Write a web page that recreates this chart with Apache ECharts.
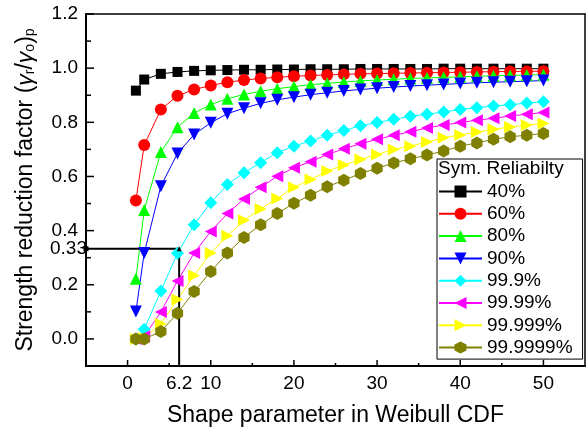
<!DOCTYPE html>
<html>
<head>
<meta charset="utf-8">
<script src="https://cdn.jsdelivr.net/npm/echarts@6/dist/echarts.min.js"></script>
<style>
  html, body { margin: 0; padding: 0; background: #fff; }
  #chart { width: 588px; height: 433px; }
</style>
</head>
<body>
<div id="chart"></div>
<script>
// shape parameter values
const shapeK = [1, 2, 4, 6, 8, 10, 12, 14, 16, 18, 20, 22, 24, 26, 28, 30, 32, 34, 36, 38, 40, 42, 44, 46, 48, 50]

const names = ['40%', '60%', '80%', '90%', '99.9%', '99.99%', '99.999%', '99.9999%']
const colors = ['#000000', '#ff0000', '#00ff00', '#0000ff', '#00ffff', '#ff00ff', '#ffff00', '#808000']

const r40 = [0.917, 0.958, 0.979, 0.986, 0.990, 0.992, 0.993, 0.994, 0.994, 0.995, 0.995, 0.996, 0.996, 0.996, 0.997, 0.997, 0.997, 0.997, 0.997, 0.998, 0.998, 0.998, 0.998, 0.998, 0.998, 0.998]
const r60 = [0.511, 0.716, 0.847, 0.898, 0.921, 0.936, 0.948, 0.956, 0.962, 0.966, 0.970, 0.973, 0.975, 0.977, 0.979, 0.980, 0.981, 0.982, 0.983, 0.984, 0.985, 0.986, 0.987, 0.988, 0.988, 0.989]
const r80 = [0.222, 0.476, 0.690, 0.782, 0.834, 0.866, 0.887, 0.903, 0.915, 0.924, 0.932, 0.939, 0.944, 0.949, 0.953, 0.956, 0.959, 0.962, 0.964, 0.966, 0.968, 0.970, 0.972, 0.973, 0.975, 0.976]
const r90 = [0.101, 0.317, 0.564, 0.685, 0.755, 0.798, 0.832, 0.852, 0.870, 0.883, 0.893, 0.902, 0.909, 0.916, 0.921, 0.926, 0.930, 0.934, 0.937, 0.940, 0.943, 0.946, 0.948, 0.950, 0.952, 0.954]
const r999 = [0.000, 0.036, 0.177, 0.316, 0.422, 0.503, 0.570, 0.614, 0.651, 0.688, 0.712, 0.731, 0.752, 0.770, 0.787, 0.799, 0.811, 0.822, 0.830, 0.838, 0.847, 0.854, 0.860, 0.865, 0.871, 0.876]
const r9999 = [0.000, 0.010, 0.099, 0.214, 0.317, 0.397, 0.463, 0.517, 0.560, 0.601, 0.632, 0.654, 0.681, 0.702, 0.721, 0.737, 0.752, 0.765, 0.779, 0.790, 0.799, 0.808, 0.815, 0.823, 0.830, 0.836]
const r99999 = [0.000, 0.003, 0.056, 0.146, 0.234, 0.317, 0.381, 0.438, 0.480, 0.519, 0.560, 0.589, 0.620, 0.642, 0.663, 0.681, 0.700, 0.712, 0.727, 0.743, 0.753, 0.764, 0.774, 0.783, 0.790, 0.796]
const r999999 = [0.000, 0.000, 0.027, 0.095, 0.175, 0.249, 0.317, 0.375, 0.422, 0.463, 0.501, 0.531, 0.562, 0.586, 0.611, 0.630, 0.650, 0.665, 0.679, 0.694, 0.712, 0.724, 0.737, 0.747, 0.752, 0.759]

// design point
const refK = 6.2
const refR = 0.333

const xTicks = [0, 10, 20, 30, 40, 50]
const xMinorTicks = [5, 15, 25, 35, 45]
const yTicks = [0, 0.2, 0.4, 0.6, 0.8, 1.0, 1.2]
const yMinorTicks = [0.1, 0.3, 0.5, 0.7, 0.9, 1.1]

const xMin = -5
const xMax = 55
const yMin = -0.1
const yMax = 1.2

const hexagon = 'path://M0,-1L0.866,-0.5L0.866,0.5L0,1L-0.866,0.5L-0.866,-0.5Z'
const symbols = ['rect', 'circle', 'triangle', 'path://M-1,-1L1,-1L0,1Z', 'diamond', 'path://M1,-1L1,1L-1,0Z', 'path://M-1,-1L-1,1L1,0Z', hexagon]
const symbolSizes = [10, 12, 12, 12, 13, 12, 12, 13]
const allData = [r40, r60, r80, r90, r999, r9999, r99999, r999999]

const font = "'Liberation Sans', Arial, sans-serif"
const chart = echarts.init(document.getElementById('chart'))

const seriesArr = allData.map((vals, i) => {
  return {
    name: names[i],
    type: 'line',
    data: shapeK.map((k, j) => [k, vals[j]]),
    symbol: symbols[i],
    symbolSize: symbolSizes[i],
    symbolKeepAspect: true,
    showAllSymbol: true,
    itemStyle: { color: colors[i] },
    lineStyle: { color: colors[i], width: 1 },
    emphasis: { disabled: true },
    animation: false
  }
})

// guide lines to the 0.33 / 6.2 point
seriesArr.push({
  name: 'ref',
  type: 'line',
  data: [
    { value: [xMin, refR], symbol: 'rect', symbolSize: 5 },
    { value: [refK, refR], symbol: 'triangle', symbolSize: 5 },
    { value: [refK, yMin], symbol: 'none' }
  ],
  lineStyle: { color: '#000', width: 2 },
  itemStyle: { color: '#000' },
  clip: false,
  silent: true,
  animation: false
})

// inward tick marks drawn by a custom series (axis ticks do not show here)
function tickSeries (vals, onY, len) {
  return {
    type: 'custom',
    silent: true,
    animation: false,
    clip: false,
    z: 10,
    data: vals.map(v => (onY ? [xMin, v] : [v, yMin])),
    renderItem: function (params, api) {
      const p = api.coord([api.value(0), api.value(1)])
      return {
        type: 'line',
        shape: onY
          ? { x1: p[0], y1: p[1], x2: p[0] + len, y2: p[1] }
          : { x1: p[0], y1: p[1], x2: p[0], y2: p[1] - len },
        style: { stroke: '#000', lineWidth: 1.5 }
      }
    }
  }
}

seriesArr.push(tickSeries(yTicks, true, 8))
seriesArr.push(tickSeries(yMinorTicks, true, 5))
seriesArr.push(tickSeries(xTicks, false, 6))
seriesArr.push(tickSeries(xMinorTicks, false, 3))

// axis that only draws the frame line
function frameAxis (pos, min, max, width) {
  return {
    type: 'value',
    min: min,
    max: max,
    position: pos,
    axisLine: { show: true, onZero: false, lineStyle: { color: '#000', width: width } },
    axisTick: { show: false },
    axisLabel: { show: false },
    splitLine: { show: false }
  }
}

// axis that only carries labels
function labelAxis (pos, min, max) {
  return {
    type: 'value',
    min: min,
    max: max,
    position: pos,
    axisLine: { show: false, onZero: false },
    axisTick: { show: false },
    axisLabel: { show: false },
    splitLine: { show: false }
  }
}

const xMajor = labelAxis('bottom', xMin, xMax)
xMajor.axisLabel = {
  customValues: xTicks.concat([refK]),
  formatter: v => (v === refK ? '6.2' : String(v)),
  fontSize: 19,
  color: '#000',
  margin: 8,
  fontFamily: font
}
xMajor.name = 'Shape parameter in Weibull CDF'
xMajor.nameLocation = 'middle'
xMajor.nameGap = 38
xMajor.nameTextStyle = { fontSize: 23, color: '#000', fontFamily: font }

const yMajor = labelAxis('left', yMin, yMax)
yMajor.axisLabel = {
  customValues: yTicks,
  formatter: v => v.toFixed(1),
  fontSize: 19,
  color: '#000',
  margin: 8,
  fontFamily: font
}
yMajor.name = 'Strength reduction factor ({g|γ}{s|r}/{g|γ}{s|o}){s|p}'
yMajor.nameLocation = 'middle'
yMajor.nameGap = 49
yMajor.nameTextStyle = {
  fontSize: 23,
  color: '#000',
  fontFamily: font,
  rich: {
    g: { fontSize: 23, fontFamily: font, fontStyle: 'italic', color: '#000' },
    s: { fontSize: 14, fontFamily: font, color: '#000', verticalAlign: 'bottom', padding: [8, 0, 0, 0] }
  }
}

const yRefLabel = labelAxis('left', yMin, yMax)
yRefLabel.axisLabel = {
  customValues: [refR],
  formatter: () => '0.33',
  fontSize: 19,
  color: '#000',
  margin: -1,
  fontFamily: font
}

const option = {
  animation: false,
  textStyle: { fontFamily: font },
  title: {
    text: 'Sym. Reliabilty',
    left: 438,
    top: 159,
    padding: 0,
    textStyle: { fontSize: 19, fontWeight: 'normal', color: '#000', fontFamily: font }
  },
  legend: {
    data: names,
    orient: 'vertical',
    left: 437,
    top: 159,
    padding: [23, 10, 2, 1],
    itemGap: 3.3,
    itemWidth: 43,
    itemHeight: 15,
    borderColor: '#000',
    borderWidth: 1,
    borderRadius: 0,
    selectedMode: false,
    textStyle: { fontSize: 19, lineHeight: 19, color: '#000', fontFamily: font }
  },
  grid: {
    left: 86,
    top: 14,
    right: 3,
    bottom: 67,
    show: false,
    containLabel: false
  },
  xAxis: [
    frameAxis('bottom', xMin, xMax, 2),
    xMajor,
    frameAxis('top', xMin, xMax, 1.5)
  ],
  yAxis: [
    frameAxis('left', yMin, yMax, 2),
    yMajor,
    yRefLabel,
    frameAxis('right', yMin, yMax, 1.5)
  ],
  series: seriesArr
}

chart.setOption(option)
</script>
</body>
</html>
